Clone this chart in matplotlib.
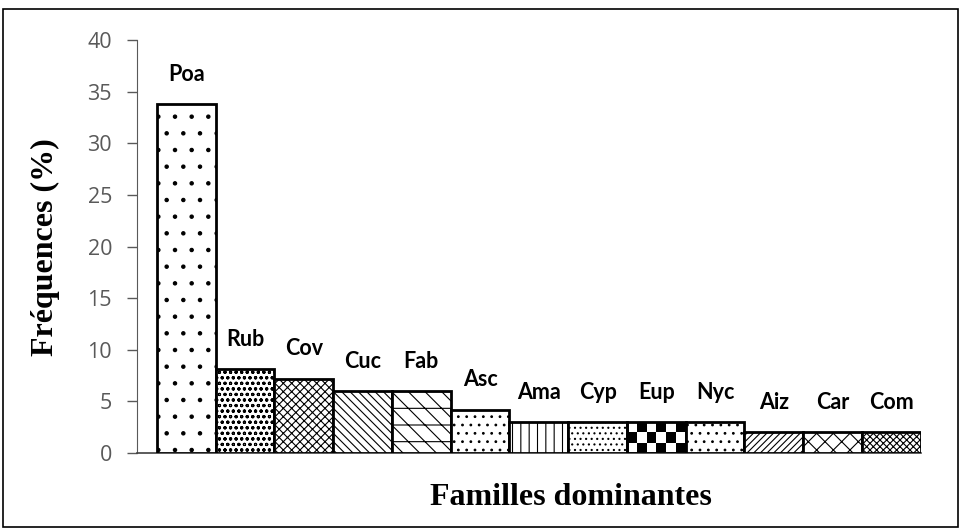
import matplotlib
matplotlib.use("Agg")
import matplotlib.pyplot as plt
import numpy as np
from matplotlib.patches import Rectangle

families = ["Poa", "Rub", "Cov", "Cuc", "Fab", "Asc", "Ama", "Cyp", "Eup", "Nyc", "Aiz", "Car", "Com"]
values = [33.8, 8.1, 7.2, 6.0, 6.0, 4.2, 3.0, 3.0, 3.0, 3.0, 2.0, 2.0, 2.0]
hatches = ['.', 'ooo', 'xxxx', '\\\\\\\\', '-\\\\', '..', '||', '...', None, '..', '/////', 'xx', 'xxxxx']
yticks = [0, 5, 10, 15, 20, 25, 30, 35, 40]

plt.rcParams['hatch.linewidth'] = 0.8
fig = plt.figure(figsize=(9.61, 5.29), dpi=100)
ax = fig.add_axes([0.1426, 0.1437, 0.8154, 0.7803])

x = list(range(len(families)))
bars = ax.bar(x, values, width=1.0, color='white', edgecolor='black', linewidth=2, hatch=hatches, zorder=3)
for b, lab, v in zip(bars, families, values):
    ax.text(b.get_x() + b.get_width() / 2, v + 2.9, lab, ha='center', va='center',
            fontsize=15.5, fontweight='bold', family='Lato', zorder=5)

# checkerboard fill for the Eup bar, clipped to its rectangle
eb = bars[families.index("Eup")]
checker = np.indices((3, 6)).sum(axis=0) % 2
im = ax.imshow(checker, cmap='gray_r', interpolation='nearest', aspect='auto',
               extent=(eb.get_x(), eb.get_x() + eb.get_width(), 0, eb.get_height()), zorder=2.5)
im.set_clip_path(eb)
eb.set_facecolor('none')
ax.set_xlim(-0.84, 12.5)
ax.set_ylim(0, 40)

ax.set_yticks(yticks)
ax.set_yticklabels([str(t) for t in yticks], fontsize=15.5, color='#595959', family='Open Sans')
ax.set_xticks([])
ax.tick_params(axis='y', length=7, color='#595959', width=1, pad=11)
ax.spines['top'].set_visible(False)
ax.spines['right'].set_visible(False)
ax.spines['left'].set_color('#595959')
ax.spines['bottom'].set_color('#404040')
ax.spines['bottom'].set_linewidth(1.2)

fig.text(0.047, 0.533, "Fréquences (%)", rotation=90, ha='center', va='center',
         fontsize=23, fontweight='bold', family='Liberation Serif')
fig.text(0.594, 0.06, "Familles dominantes", ha='center', va='center',
         fontsize=23, fontweight='bold', family='Liberation Serif')

fig.patches.append(Rectangle((0.003, 0.003), 0.994, 0.98, transform=fig.transFigure,
                             fill=False, edgecolor='black', linewidth=1.2))
fig.savefig("out.png", dpi=100, facecolor='white')
